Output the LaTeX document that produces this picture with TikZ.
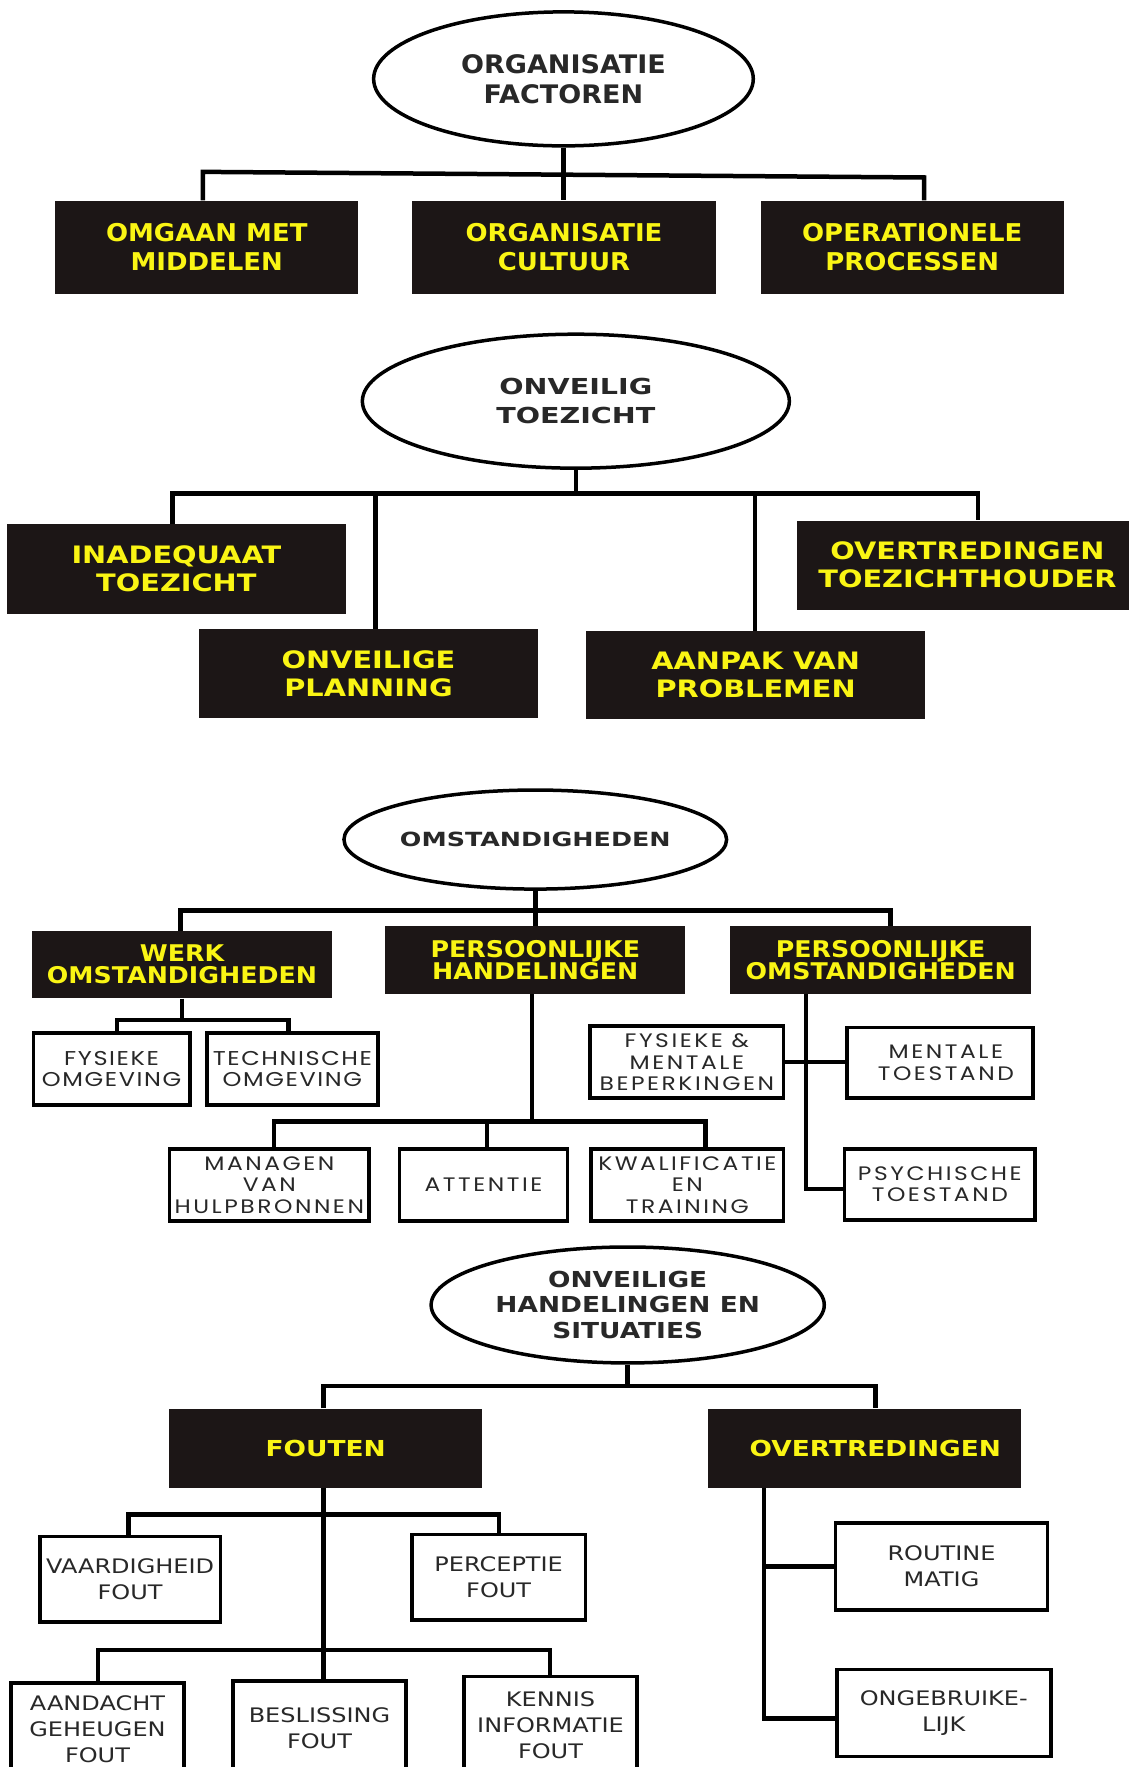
\documentclass[tikz,border=0pt]{standalone}
\usepackage{fontspec}
\setmainfont{DejaVu Sans}
\newfontfamily\fA{DejaVu Sans}[FakeStretch=1.06]
\newfontfamily\fB{DejaVu Sans}[FakeStretch=1.1]
\newfontfamily\fV{DejaVu Sans}[FakeStretch=1.2]
\newfontfamily\fW{DejaVu Sans}[FakeStretch=1.3]
\newfontfamily\fR{DejaVu Sans}[FakeStretch=1.2]
\newfontfamily\fGa{Poppins}[FakeStretch=1.2,LetterSpace=8]
\newfontfamily\fGb{Poppins}[FakeStretch=1.2,LetterSpace=13]
\usetikzlibrary{shapes.geometric,backgrounds}
\definecolor{boxblack}{RGB}{28,22,22}
\definecolor{txtyellow}{RGB}{250,245,20}
\definecolor{txtgray}{RGB}{40,40,40}
\tikzset{
  every node/.style={inner sep=0pt},
  blk/.style 2 args={rectangle, fill=boxblack, text=txtyellow, align=center,
    minimum width=#1*1.1269pt, minimum height=#2*1.1269pt},
  wht/.style 2 args={rectangle, draw=black, line width=3.5pt, fill=white, text=txtgray, align=center,
    minimum width=#1*1.1269pt-3.5pt, minimum height=#2*1.1269pt-3.5pt},
  ell/.style 2 args={ellipse, draw=black, line width=3.5pt, fill=white, text=txtgray, align=center,
    minimum width=#1*1.1269pt-3.5pt, minimum height=#2*1.1269pt-3.5pt},
  conn/.style={draw=black, line width=4.5pt, line join=miter},
  tA/.style={font=\fA\bfseries\fontsize{24.5}{29}\selectfont},
  tB/.style={font=\fV\bfseries\fontsize{24}{28}\selectfont},
  tC/.style={font=\fB\bfseries\fontsize{23}{22}\selectfont},
  tD/.style={font=\fV\bfseries\fontsize{22}{26}\selectfont},
  eA/.style={font=\fA\bfseries\fontsize{25.5}{30}\selectfont},
  eB/.style={font=\fW\bfseries\fontsize{22}{29}\selectfont},
  eC/.style={font=\fW\bfseries\fontsize{19.5}{22}\selectfont},
  eD/.style={font=\fV\bfseries\fontsize{22}{25.5}\selectfont},
  gA/.style={font=\fGa\fontsize{20}{20.7}\selectfont},
  gB/.style={font=\fGb\fontsize{19.5}{21.4}\selectfont},
  rA/.style={font=\fR\fontsize{20}{26}\selectfont},
}
\begin{document}
\begin{tikzpicture}[x=1.1269pt,y=-1.1269pt]
\useasboundingbox (0,0) rectangle (1001,1568);

% ---------------- section 1
\node[ell={340}{122}, eA] (e1) at (500,70) {ORGANISATIE\\FACTOREN};
\node[blk={269}{83}, tA] (o1) at (183.5,219.5) {OMGAAN MET\\MIDDELEN};
\node[blk={269}{83}, tA] (o2) at (500.5,219.5) {ORGANISATIE\\CULTUUR};
\node[blk={269}{83}, tA] (o3) at (809.5,219.5) {OPERATIONELE\\PROCESSEN};
\coordinate (b1) at (500,155);
\coordinate (b1L) at (180,152.5);
\coordinate (b1R) at (820,157.5);

% ---------------- section 2
\node[ell={382}{122}, eB] (e2) at (511,356) {ONVEILIG\\TOEZICHT};
\node[blk={301}{80}, tB] (t1) at (156.5,505) {INADEQUAAT\\TOEZICHT};
\node[blk={300}{79}, tB] (t2) at (327,597.5) {ONVEILIGE\\PLANNING};
\node[blk={301}{78}, tB] (t3) at (670.5,599) {AANPAK VAN\\PROBLEMEN};
\node[blk={303}{79}, tB] (t4) at (858.5,501.5) {OVERTREDINGEN\\TOEZICHTHOUDER};
\coordinate (b2) at (511,438);
\coordinate (b2a) at (153,438);
\coordinate (b2b) at (333,438);
\coordinate (b2c) at (670,438);
\coordinate (b2d) at (868,438);

% ---------------- section 3
\node[ell={337}{91}, eC] (e3) at (475,745) {OMSTANDIGHEDEN};
\node[blk={267}{60}, tC] (w1) at (161.5,856) {WERK\\OMSTANDIGHEDEN};
\node[blk={266}{60}, tC] (w2) at (475,852) {PERSOONLIJKE\\HANDELINGEN};
\node[blk={267}{60}, tC] (w3) at (781.5,852) {PERSOONLIJKE\\OMSTANDIGHEDEN};
\coordinate (b3) at (475,808);
\coordinate (b3L) at (160,808);
\coordinate (b3R) at (790,808);

\node[wht={142}{67}, gA] (f1) at (99,948.5) {FYSIEKE\\OMGEVING};
\node[wht={155}{67}, gA] (f2) at (259.5,948.5) {TECHNISCHE\\OMGEVING};
\coordinate (wkL) at (104,905);
\coordinate (wkR) at (256,905);

\node[wht={180}{67}, gB] (h1) at (239,1051.5) {MANAGEN\\VAN\\HULPBRONNEN};
\node[wht={152}{67}, gB] (h2) at (429,1051.5) {ATTENTIE};
\node[wht={174}{67}, gB] (h3) at (610,1051.5) {KWALIFICATIE\\EN\\TRAINING};
\coordinate (hb) at (472,995);
\coordinate (hbL) at (243,995);
\coordinate (hbM) at (432,995);
\coordinate (hbR) at (626,995);

\node[wht={175}{67}, gB] (p1) at (609.5,942.5) {FYSIEKE \&\\MENTALE\\BEPERKINGEN};
\node[wht={168}{66}, gB] (p2) at (834,943) {\hspace*{12pt}MENTALE\\\hspace*{12pt}TOESTAND};
\node[wht={172}{66}, gB] (p3) at (834,1051) {PSYCHISCHE\\TOESTAND};
\coordinate (pv) at (715,1055);

% ---------------- section 4
\node[ell={352}{106}, eD] (e4) at (557,1158) {ONVEILIGE\\HANDELINGEN EN\\SITUATIES};
\node[blk={278}{70}, tD] (u1) at (289,1285) {FOUTEN};
\node[blk={278}{70}, tD] (u2) at (767,1285) {\hspace*{22pt}OVERTREDINGEN};
\coordinate (b4) at (557,1230);
\coordinate (b4L) at (287,1230);
\coordinate (b4R) at (777,1230);

\node[wht={163}{79}, rA] (v1) at (115.5,1401.5) {VAARDIGHEID\\FOUT};
\node[wht={157}{79}, rA] (v2) at (442.5,1399.5) {PERCEPTIE\\FOUT};
\coordinate (fv) at (287,1344);
\coordinate (h4a) at (114,1344);
\coordinate (h4b) at (443,1344);

\node[wht={157}{85}, rA] (a1) at (86.5,1534.5) {AANDACHT\\GEHEUGEN\\FOUT};
\node[wht={157}{88}, rA] (a2) at (283.5,1534) {BESLISSING\\FOUT};
\node[wht={157}{90}, rA] (a3) at (488.5,1531) {KENNIS\\INFORMATIE\\FOUT};
\coordinate (h5a) at (87,1464);
\coordinate (h5b) at (488,1464);

\node[wht={191}{80}, rA] (r1) at (835.5,1390) {ROUTINE\\MATIG};
\node[wht={193}{80}, rA] (r2) at (837.5,1520) {ONGEBRUIKE-\\LIJK};
\coordinate (rv) at (678,1525);

% ---------------- connectors
\begin{scope}[on background layer]
\fill[white] (0,0) rectangle (1001,1568);
\draw[conn] (e1.south) -- (b1);
\draw[conn] (b1L |- o1.north) -- (b1L) -- (b1R) -- (b1R |- o3.north);
\draw[conn] (b1) -- (b1 |- o2.north);

\draw[conn] (e2.south) -- (b2);
\draw[conn] (b2a |- t1.north) -- (b2a) -- (b2d) -- (b2d |- t4.north);
\draw[conn] (b2b) -- (b2b |- t2.north);
\draw[conn] (b2c) -- (b2c |- t3.north);

\draw[conn] (e3.south) -- (b3);
\draw[conn] (b3L |- w1.north) -- (b3L) -- (b3R) -- (b3R |- w3.north);
\draw[conn] (b3) -- (b3 |- w2.north);

\draw[conn] (w1.south) -- (w1.south |- wkL);
\draw[conn] (wkL |- f1.north) -- (wkL) -- (wkR) -- (wkR |- f2.north);

\draw[conn] (hb |- w2.south) -- (hb);
\draw[conn] (hbL |- h1.north) -- (hbL) -- (hbR) -- (hbR |- h3.north);
\draw[conn] (hbM) -- (hbM |- h2.north);

\draw[conn] (pv |- w3.south) -- (pv) -- (p3.west |- pv);
\draw[conn] (p1.east) -- (p2.west |- p1.east);

\draw[conn] (e4.south) -- (b4);
\draw[conn] (b4L |- u1.north) -- (b4L) -- (b4R) -- (b4R |- u2.north);

\draw[conn] (fv |- u1.south) -- (fv |- a2.north);
\draw[conn] (h4a |- v1.north) -- (h4a) -- (h4b) -- (h4b |- v2.north);
\draw[conn] (h5a |- a1.north) -- (h5a) -- (h5b) -- (h5b |- a3.north);

\draw[conn] (rv |- u2.south) -- (rv) -- (r2.west |- rv);
\draw[conn] (rv |- r1.west) -- (r1.west);
\end{scope}
\end{tikzpicture}
\end{document}
